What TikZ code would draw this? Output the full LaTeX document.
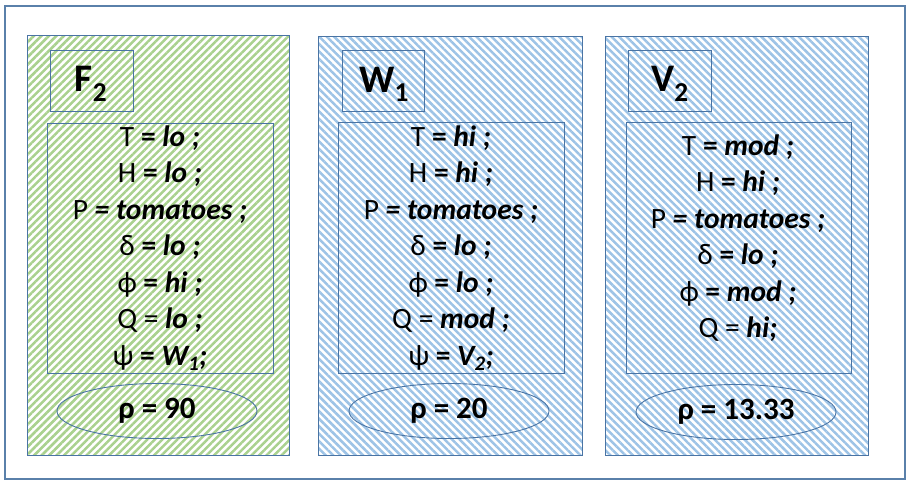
\documentclass[tikz,border=0pt]{standalone}
\usepackage{fontspec}
\setmainfont{Carlito}
\usetikzlibrary{patterns.meta,shapes.geometric}
\definecolor{edge}{HTML}{4A74A4}
\definecolor{framec}{HTML}{5A80AA}
\definecolor{hgreen}{HTML}{A9D18E}
\definecolor{hblue}{HTML}{9DC3E6}
\newcommand{\bi}[1]{\textbf{\textit{#1}}}
\newcommand{\eqb}{\textbf{=}}
\tikzset{
  panelG/.style={draw=edge, line width=0.9pt, pattern={Lines[angle=45,distance=5.3pt,line width=2.5pt]}, pattern color=hgreen},
  panelB/.style={draw=edge, line width=0.9pt, pattern={Lines[angle=-45,distance=5.3pt,line width=2.5pt]}, pattern color=hblue},
  box/.style={draw=edge, line width=0.9pt},
  oval/.style={draw=edge, line width=0.9pt, ellipse, minimum width=200pt, minimum height=55pt, inner sep=0pt, font=\fontsize{31}{34}\selectfont\bfseries},
  vals/.style={align=center, font=\fontsize{29.5}{36.5}\selectfont, inner sep=0pt},
  titletext/.style={font=\fontsize{39}{42}\selectfont\bfseries, inner sep=0pt}
}
\begin{document}
\begin{tikzpicture}[x=1pt,y=-1pt]
\useasboundingbox (0,0) rectangle (909,482);
\draw[framec, line width=2.5pt] (5,6) rectangle (905,479);

% Panel 1
\path[panelG] (27,35) rectangle (289,455);
\draw[box] (50,50) rectangle (133,111);
\node[titletext] (t1) at (91,84) {F\textsubscript{2}};
\draw[box] (47,123) rectangle (273,373);
\node[vals] (v1) at (160,248) {T \eqb{} \bi{lo ;}\\ H \eqb{} \bi{lo ;}\\ P \bi{= tomatoes ;}\\ δ \eqb{} \bi{lo ;}\\ ϕ \eqb{} \bi{hi ;}\\ Q = \bi{lo ;}\\ ψ \eqb{} \bi{W\textsubscript{1};}};
\node[oval] (e1) at (157,411) {ρ = 90};

% Panel 2
\path[panelB] (318,36) rectangle (582,455);
\draw[box] (342,50) rectangle (424,111);
\node[titletext] (t2) at (384,84) {W\textsubscript{1}};
\draw[box] (338,122) rectangle (564,373);
\node[vals] (v2) at (451,248) {T \eqb{} \bi{hi ;}\\ H \eqb{} \bi{hi ;}\\ P \bi{= tomatoes ;}\\ δ \eqb{} \bi{lo ;}\\ ϕ \eqb{} \bi{lo ;}\\ Q = \bi{mod ;}\\ ψ \eqb{} \bi{V\textsubscript{2};}};
\node[oval] (e2) at (449,411) {ρ = 20};

% Panel 3
\path[panelB] (605,36) rectangle (868,455);
\draw[box] (628,50) rectangle (711,111);
\node[titletext] (t3) at (670,84) {V\textsubscript{2}};
\draw[box] (626,122) rectangle (851,373);
\node[vals] (v3) at (738,238) {T \eqb{} \bi{mod ;}\\ H \eqb{} \bi{hi ;}\\ P \bi{= tomatoes ;}\\ δ \eqb{} \bi{lo ;}\\ ϕ \eqb{} \bi{mod ;}\\ Q = \bi{hi;}};
\node[oval] (e3) at (736,412) {ρ = 13.33};
\end{tikzpicture}
\end{document}
